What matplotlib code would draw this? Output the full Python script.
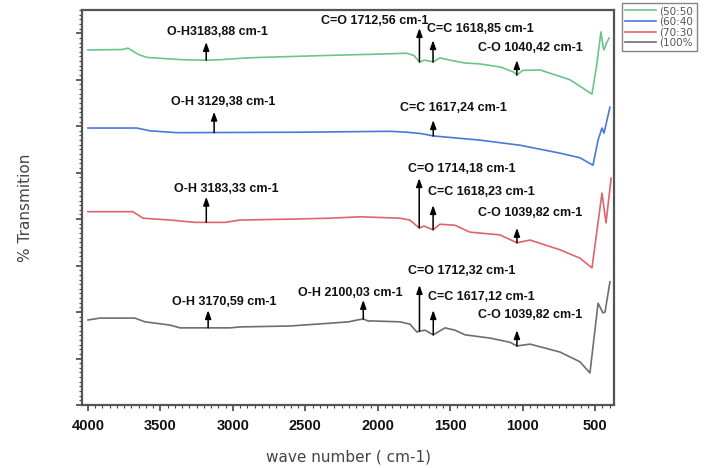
import numpy as np
import matplotlib
matplotlib.use("Agg")
import matplotlib.pyplot as plt
from matplotlib.ticker import MultipleLocator

# ---- data (wavenumber cm-1, transmission arbitrary offset units) ----
green_w = [4000, 3760, 3724, 3650, 3593, 3450, 3344, 3183, 3089, 2900, 2700, 2260, 2000, 1800, 1750, 1712, 1680,
           1640, 1618, 1571, 1500, 1400, 1295, 1150, 1060, 1040, 1000, 880, 674, 600, 522, 490, 460, 445, 439, 420, 404]
green_t = [76.4, 76.5, 76.8, 75.4, 74.8, 74.5, 74.3, 74.2, 74.3, 74.7, 74.9, 75.3, 75.5, 75.7, 75.2, 73.8, 74.2,
           74.0, 73.8, 74.7, 74.2, 73.6, 73.4, 72.7, 71.6, 71.0, 72.0, 72.1, 70.0, 68.5, 66.9, 73.0, 80.3, 77.0, 76.4, 78.0, 79.0]

blue_w = [4000, 3662, 3572, 3386, 2537, 1916, 1800, 1700, 1617, 1295, 1019, 743, 605, 515, 480, 453, 439, 398]
blue_t = [59.6, 59.6, 59.0, 58.6, 58.7, 58.9, 58.7, 58.4, 57.9, 57.0, 55.9, 54.2, 53.2, 51.6, 57.0, 59.6, 58.5, 64.1]

red_w = [4000, 3690, 3620, 3434, 3260, 3055, 2951, 2606, 2330, 2122, 1847, 1778, 1722, 1714, 1680, 1619, 1571,
         1470, 1364, 1157, 1053, 1039, 950, 743, 605, 522, 453, 425, 390]
red_t = [41.6, 41.6, 40.2, 39.8, 39.3, 39.3, 39.8, 40.0, 40.2, 40.5, 40.2, 39.8, 38.3, 38.1, 38.5, 37.7, 38.9,
         38.7, 37.2, 36.6, 35.1, 34.9, 35.5, 33.4, 31.6, 29.5, 45.6, 39.2, 48.8]

gray_w = [4000, 3917, 3676, 3607, 3434, 3365, 3020, 2951, 2606, 2330, 2200, 2140, 2100, 2060, 2054, 1847, 1778,
          1730, 1712, 1674, 1617, 1536, 1467, 1398, 1226, 1088, 1040, 950, 743, 605, 536, 480, 446, 432, 398]
gray_t = [18.3, 18.7, 18.7, 17.9, 17.2, 16.6, 16.6, 16.8, 17.0, 17.6, 17.9, 18.3, 18.5, 18.0, 18.1, 17.9, 17.4,
          15.7, 15.9, 16.1, 15.1, 16.6, 16.1, 15.1, 14.4, 13.5, 12.7, 13.1, 11.4, 9.3, 6.9, 21.9, 19.8, 20.0, 26.5]

# legend labels as visible in the reference (truncated at the image edge there)
series_labels = ["(50:50", "(60:40", "(70:30", "(100%"]
series_colors = ["#6cc48c", "#4a78d8", "#e0636e", "#6e6e6e"]

# peak annotations: (series index, label, wavenumber)
peak_series = [0, 0, 0, 0, 1, 1, 2, 2, 2, 2, 3, 3, 3, 3, 3]
peak_labels = ["O-H3183,88 cm-1", "C=O 1712,56 cm-1", "C=C 1618,85 cm-1", "C-O 1040,42 cm-1",
               "O-H 3129,38 cm-1", "C=C 1617,24 cm-1",
               "O-H 3183,33 cm-1", "C=O 1714,18 cm-1", "C=C 1618,23 cm-1", "C-O 1039,82 cm-1",
               "O-H 3170,59 cm-1", "O-H 2100,03 cm-1", "C=O 1712,32 cm-1", "C=C 1617,12 cm-1", "C-O 1039,82 cm-1"]
peak_w = [3183.88, 1712.56, 1618.85, 1040.42, 3129.38, 1617.24, 3183.33, 1714.18, 1618.23, 1039.82,
          3170.59, 2100.03, 1712.32, 1617.12, 1039.82]

# layout of annotation (arrow head y, text center x, text center y) in data units
arrow_head = [78.1, 81.1, 78.5, 74.2, 63.1, 61.3, 44.8, 48.8, 43.0, 38.1, 20.4, 22.6, 25.8, 20.4, 16.1]
text_xy = [(3103, 80.3), (2019, 82.6), (1295, 80.9), (950, 76.8), (3068, 65.2), (1481, 63.9),
           (3048, 46.5), (1419, 50.8), (1288, 45.8), (950, 41.3), (3061, 22.2), (2192, 24.1),
           (1419, 28.8), (1288, 23.2), (950, 19.4)]

fig = plt.figure(figsize=(7.07, 4.68), dpi=100)
ax = fig.add_axes([82/707, 1-405/468, (614-82)/707, (405-10)/468])

all_w = [green_w, blue_w, red_w, gray_w]
all_t = [green_t, blue_t, red_t, gray_t]
lines = []
for w, t, c, lab in zip(all_w, all_t, series_colors, series_labels):
    ln, = ax.plot(w, t, color=c, lw=1.2, label=lab)
    lines.append(ln)

for s, lab, pw, hy, (tx, ty) in zip(peak_series, peak_labels, peak_w, arrow_head, text_xy):
    ws = np.array(all_w[s])[::-1]
    ts = np.array(all_t[s])[::-1]
    tail = np.interp(pw, ws, ts)
    ax.annotate("", xy=(pw, hy), xytext=(pw, tail),
                arrowprops=dict(arrowstyle="-|>,head_length=0.5,head_width=0.18", color="black", lw=1.1,
                                shrinkA=0, shrinkB=0))
    ax.text(tx, ty, lab, ha="center", va="center", fontsize=9, fontweight="bold",
            family="Liberation Sans", color="#111111")

ax.set_xlim(4041, 370)
ax.set_ylim(0, 85)
ax.xaxis.set_major_locator(MultipleLocator(500))
ax.xaxis.set_minor_locator(MultipleLocator(50))
ax.yaxis.set_major_locator(MultipleLocator(10))
ax.yaxis.set_minor_locator(MultipleLocator(1))
ax.set_yticklabels([])
ax.tick_params(axis="both", which="major", direction="out", length=4, width=1.2, color="#444444")
ax.tick_params(axis="both", which="minor", direction="out", length=2, width=0.8, color="#444444")
ax.tick_params(axis="x", labelsize=10.5, pad=6, labelcolor="#111111")
for lbl in ax.get_xticklabels():
    lbl.set_fontweight("bold")
    lbl.set_family("Liberation Sans")
for sp in ax.spines.values():
    sp.set_linewidth(1.6)
    sp.set_color("#555555")

ax.set_xlabel("wave number ( cm-1)", fontsize=11, color="#444444", labelpad=12)
ax.set_ylabel("% Transmition", fontsize=11, color="#444444", labelpad=28)

leg = fig.legend(handles=lines, labels=series_labels, loc="upper left",
                 bbox_to_anchor=(622/707, 1-3/468), fontsize=7.5, frameon=True,
                 handlelength=3.0, handletextpad=0.3, labelspacing=0.05, borderpad=0.3,
                 borderaxespad=0.0, fancybox=False, edgecolor="#666666")
for txt in leg.get_texts():
    txt.set_color("#555555")

fig.savefig("out.png", dpi=100)
